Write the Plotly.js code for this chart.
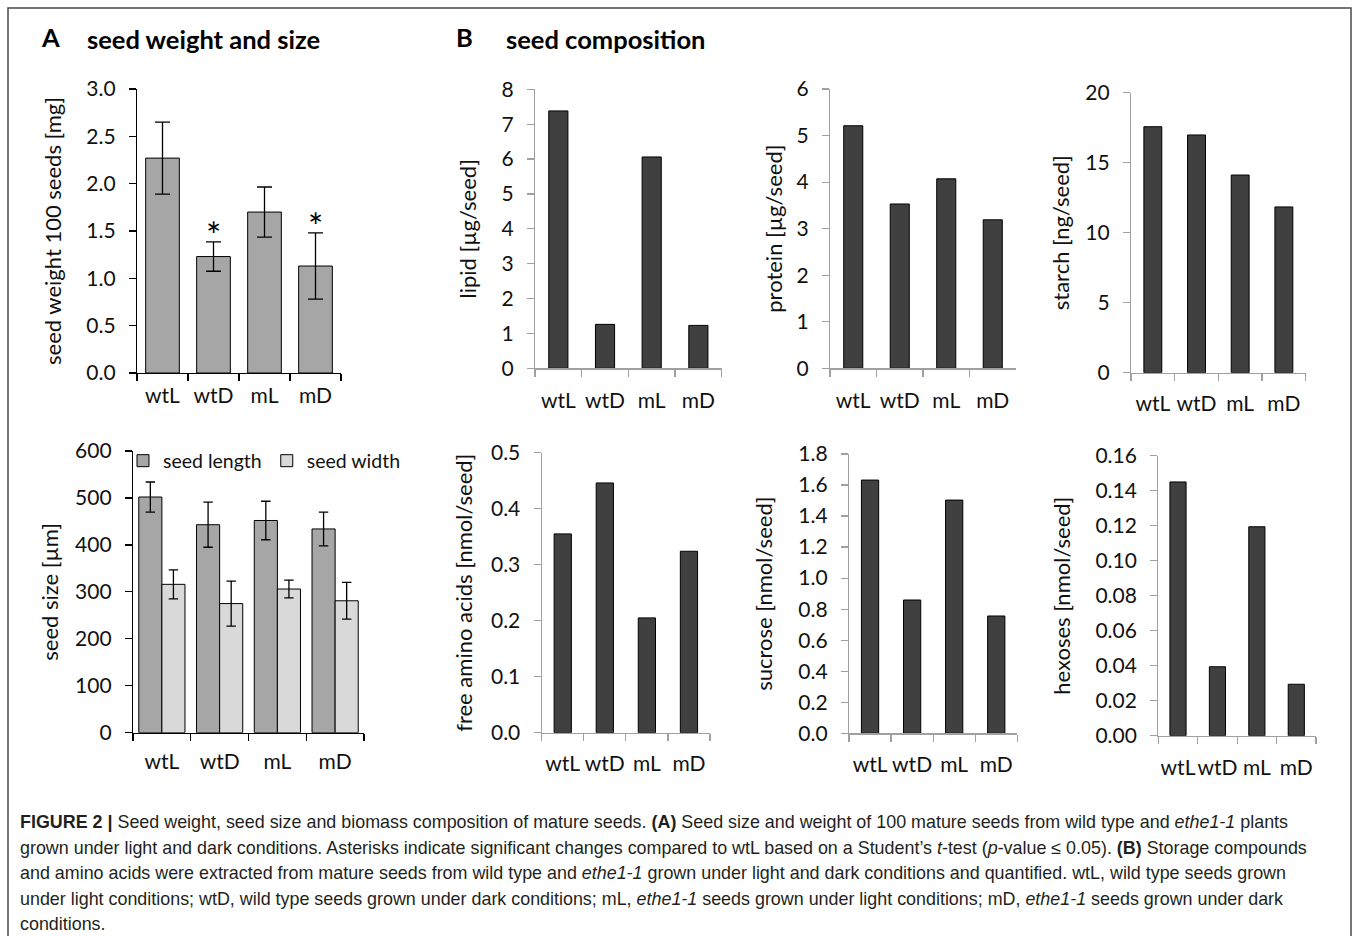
<!DOCTYPE html>
<html>
<head>
<meta charset="utf-8">
<script src="https://cdn.plot.ly/plotly-3.0.1.min.js"></script>
<style>
  html, body { margin: 0; padding: 0; background: #ffffff; }
  #chart { width: 1358px; height: 936px; }
</style>
</head>
<body>
<div id="chart"></div>
<script>
// ---------------- data ----------------
const categories = ['wtL', 'wtD', 'mL', 'mD'];

const seedWeight = [2.27, 1.23, 1.70, 1.13];
const seedWeightErr = [0.38, 0.155, 0.265, 0.35];
const significant = [false, true, false, true];

const seedLength = [502, 443, 452, 434];
const seedLengthErr = [32, 48, 41, 36];
const seedWidth = [316, 275, 306, 281];
const seedWidthErr = [31, 48, 19, 39];

const lipid = [7.38, 1.26, 6.06, 1.23];
const protein = [5.21, 3.53, 4.07, 3.19];
const starch = [17.57, 16.98, 14.12, 11.84];
const aminoAcids = [0.355, 0.446, 0.205, 0.324];
const sucrose = [1.632, 0.859, 1.503, 0.756];
const hexoses = [0.145, 0.0394, 0.1194, 0.0294];

// ---------------- layout helpers ----------------
const W = 1358, H = 936;
const FONT = 'Lato, "Open Sans", sans-serif';
const px = v => v / W;
const py = v => 1 - v / H;

const layout = {
  width: W, height: H,
  margin: {l: 0, r: 0, t: 0, b: 0},
  paper_bgcolor: '#ffffff',
  plot_bgcolor: 'rgba(0,0,0,0)',
  font: {family: FONT, size: 21, color: '#111111'},
  barmode: 'group',
  showlegend: true,
  legend: {
    orientation: 'h', x: px(123), y: py(461), xanchor: 'left', yanchor: 'middle',
    font: {family: FONT, size: 19.5, color: '#111111'},
    bgcolor: 'rgba(0,0,0,0)', itemclick: false, itemdoubleclick: false,
    tracegroupgap: 0, itemwidth: 30
  },
  annotations: [],
  shapes: []
};

function addPanel(n, x0, x1, yTop, yBot, yRange, dtick, fmt, title, color, xstand, tstand) {
  const xa = n === 1 ? 'xaxis' : 'xaxis' + n;
  const ya = n === 1 ? 'yaxis' : 'yaxis' + n;
  const xid = n === 1 ? 'x' : 'x' + n;
  const yid = n === 1 ? 'y' : 'y' + n;
  layout[xa] = {
    domain: [px(x0), px(x1)], anchor: yid, type: 'category',
    range: [-0.5, categories.length - 0.5], tickson: 'boundaries',
    ticks: 'outside', ticklen: 7, tickwidth: 1.2, tickcolor: color,
    showline: true, linecolor: color, linewidth: 1.2, tickangle: 0,
    showgrid: false, zeroline: false, fixedrange: true,
    ticklabelstandoff: xstand,
    tickfont: {family: FONT, size: 21, color: '#111111'}
  };
  layout[ya] = {
    domain: [py(yBot), py(yTop)], anchor: xid,
    range: yRange, dtick: dtick, tick0: 0, tickformat: fmt,
    ticks: 'outside', ticklen: 7, tickwidth: 1.2, tickcolor: color,
    showline: true, linecolor: color, linewidth: 1.2,
    showgrid: false, zeroline: false, fixedrange: true,
    ticklabelstandoff: 9,
    tickfont: {family: FONT, size: 21, color: '#111111'},
    title: {text: title, standoff: tstand, font: {family: FONT, size: 22, color: '#111111'}}
  };
  return {x: xid, y: yid};
}

const A1 = addPanel(1, 137, 341, 89, 373, [0, 3], 0.5, '.1f', 'seed weight 100 seeds [mg]', '#000000', 4, 18);
const A2 = addPanel(2, 133, 364, 451, 732.7, [0, 600], 100, 'd', 'seed size [µm]', '#000000', 10, 10);
const B1 = addPanel(3, 535, 721.7, 89.3, 368.3, [0, 8], 1, 'd', 'lipid [µg/seed]', '#a0a0a0', 13, 18);
const B2 = addPanel(4, 830, 1016, 89, 368.3, [0, 6], 1, 'd', 'protein [µg/seed]', '#a0a0a0', 13, 7);
const B3 = addPanel(5, 1131, 1305.7, 92.7, 372.7, [0, 20], 5, 'd', 'starch [ng/seed]', '#a0a0a0', 12, 9);
const B4 = addPanel(6, 541.7, 710, 452.7, 732.7, [0, 0.5], 0.1, '.1f', 'free amino acids [nmol/seed]', '#a0a0a0', 12, 12);
const B5 = addPanel(7, 849, 1017.3, 454, 733.3, [0, 1.8], 0.2, '.1f', 'sucrose [nmol/seed]', '#a0a0a0', 12, 19);
const B6 = addPanel(8, 1158.3, 1316, 455.7, 735.7, [0, 0.16], 0.02, '.2f', 'hexoses [nmol/seed]', '#a0a0a0', 13, 18);

const traces = [];
const edge = {color: '#000000', width: 1};

traces.push({
  type: 'bar', x: categories, y: seedWeight, xaxis: A1.x, yaxis: A1.y,
  width: 0.66, marker: {color: '#a6a6a6', line: edge}, showlegend: false,
  error_y: {type: 'data', array: seedWeightErr, visible: true, color: '#000000', thickness: 1.3, width: 7.5},
  hoverinfo: 'x+y'
});

traces.push({
  type: 'bar', name: 'seed length', x: categories, y: seedLength, xaxis: A2.x, yaxis: A2.y,
  width: 0.4, offset: -0.4, marker: {color: '#a6a6a6', line: edge},
  error_y: {type: 'data', array: seedLengthErr, visible: true, color: '#000000', thickness: 1.3, width: 4.7}
});
traces.push({
  type: 'bar', name: 'seed width', x: categories, y: seedWidth, xaxis: A2.x, yaxis: A2.y,
  width: 0.4, offset: 0, marker: {color: '#d9d9d9', line: edge},
  error_y: {type: 'data', array: seedWidthErr, visible: true, color: '#000000', thickness: 1.3, width: 4.7}
});

const bPanels = [[B1, lipid], [B2, protein], [B3, starch], [B4, aminoAcids], [B5, sucrose], [B6, hexoses]];
bPanels.forEach(([ax, vals]) => {
  traces.push({
    type: 'bar', x: categories, y: vals, xaxis: ax.x, yaxis: ax.y,
    width: 0.41, marker: {color: '#404040', line: edge}, showlegend: false
  });
});

// significance asterisks
categories.forEach((c, i) => {
  if (significant[i]) {
    layout.annotations.push({
      xref: A1.x, yref: A1.y, x: c, y: seedWeight[i] + seedWeightErr[i],
      text: '*', showarrow: false, yanchor: 'bottom', yshift: -17,
      font: {family: FONT, size: 36, color: '#000000'}
    });
  }
});

// panel headings
const head = (x, y, text) => layout.annotations.push({
  xref: 'paper', yref: 'paper', x: px(x), y: py(y), xanchor: 'left', yanchor: 'middle',
  text: text, showarrow: false, font: {family: FONT, size: 25.5, color: '#000000'}
});
head(39, 37, '<b>A</b>');
head(85, 39, '<b>seed weight and size</b>');
head(454, 37, '<b>B</b>');
head(504, 39, '<b>seed composition</b>');

// caption
const captionLines = [
  '<b>FIGURE 2 |</b> Seed weight, seed size and biomass composition of mature seeds. <b>(A)</b> Seed size and weight of 100 mature seeds from wild type and <i>ethe1-1</i> plants',
  'grown under light and dark conditions. Asterisks indicate significant changes compared to wtL based on a Student’s <i>t</i>-test (<i>p</i>-value ≤ 0.05). <b>(B)</b> Storage compounds',
  'and amino acids were extracted from mature seeds from wild type and <i>ethe1-1</i> grown under light and dark conditions and quantified. wtL, wild type seeds grown',
  'under light conditions; wtD, wild type seeds grown under dark conditions; mL, <i>ethe1-1</i> seeds grown under light conditions; mD, <i>ethe1-1</i> seeds grown under dark',
  'conditions.'
];
const captionY = [822, 847.5, 873, 898.5, 924];
captionLines.forEach((t, i) => {
  layout.annotations.push({
    xref: 'paper', yref: 'paper', x: px(18), y: py(captionY[i]), xanchor: 'left', yanchor: 'middle',
    text: t, showarrow: false, font: {family: '"Liberation Sans", Arial, sans-serif', size: 17.9, color: '#231f20'}
  });
});

// frame
layout.shapes.push({
  type: 'rect', xref: 'paper', yref: 'paper', x0: px(8), x1: px(1351), y0: py(960), y1: py(8),
  line: {color: '#4a4a4a', width: 1.5}, fillcolor: 'rgba(0,0,0,0)', layer: 'below'
});

Plotly.newPlot('chart', traces, layout, {displayModeBar: false, staticPlot: true});
</script>
</body>
</html>
